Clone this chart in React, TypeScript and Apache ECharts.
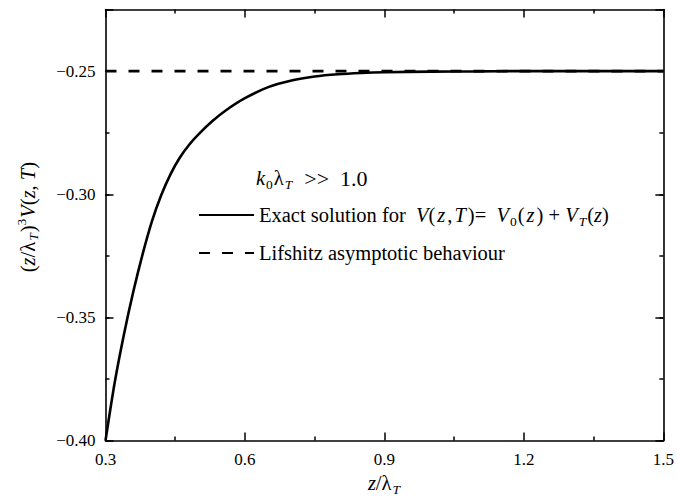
import React, { useEffect, useRef } from "react";
import * as echarts from "echarts";

// x = z / lambda_T, y = (z/lambda_T)^3 V(z,T)
const exactX = [0.30, 0.32, 0.34, 0.36, 0.38, 0.40, 0.42, 0.44, 0.46, 0.48, 0.50, 0.53, 0.56, 0.60, 0.65, 0.70, 0.75, 0.80, 0.85, 0.90, 1.00, 1.10, 1.20, 1.50];
const exactY = [-0.4000, -0.3762, -0.3566, -0.3394, -0.3242, -0.3109, -0.3003, -0.2918, -0.2851, -0.2799, -0.2757, -0.2703, -0.2658, -0.2610, -0.2565, -0.2538, -0.2522, -0.2513, -0.2508, -0.2505, -0.2502, -0.2501, -0.2500, -0.2500];
const lifshitzX = [0.3, 1.5];
const lifshitzY = [-0.25, -0.25];
const xTicks = [0.3, 0.6, 0.9, 1.2, 1.5];
const yTicks = [-0.40, -0.35, -0.30, -0.25];

const FONT = "Liberation Serif";

export default function App() {
  const ref = useRef<HTMLDivElement>(null);
  useEffect(() => {
    document.body.style.margin = "0";
    const chart = echarts.init(ref.current!, null, { renderer: "svg" });
    const FS = 20.5;
    const SS = 13.5;
    const LH = 26;
    const base = { fontFamily: FONT, color: "#000" };
    const rich = {
      n: { ...base, fontSize: FS, lineHeight: LH },
      i: { ...base, fontSize: FS, fontStyle: "italic", lineHeight: LH },
      ip: { ...base, fontSize: FS, fontStyle: "italic", lineHeight: LH, padding: [0, 2, 0, 2] },
      iv: { ...base, fontSize: FS, fontStyle: "italic", lineHeight: LH, padding: [0, 0, 0, 5] },
      big: { ...base, fontSize: 22, lineHeight: LH },
      sub: { ...base, fontSize: SS, lineHeight: 13, verticalAlign: "bottom", padding: [0, 1, 0, 1] },
      subi: { ...base, fontSize: SS, fontStyle: "italic", lineHeight: 13, verticalAlign: "bottom", padding: [0, 1, 0, 1] },
      sup: { ...base, fontSize: SS, lineHeight: 13, verticalAlign: "top", padding: [0, 1, 0, 0] },
    };
    const near = (v: number, arr: number[]) => arr.some((t) => Math.abs(t - v) < 1e-6);
    const fmt = (v: number, d: number) => v.toFixed(d).replace("-", "\u2212");
    const axisLine = { show: true, lineStyle: { color: "#000", width: 1.6 } };
    const major = { show: true, inside: true, length: 8, lineStyle: { color: "#000", width: 1.5 } };
    const minor = { show: true, inside: true, length: 4, lineStyle: { color: "#000", width: 1.5 } };
    const baseX = { type: "value", min: 0.3, max: 1.5, splitLine: { show: false } };
    const baseY = { type: "value", min: -0.4, max: -0.225, splitLine: { show: false } };
    const names: Record<string, string> = {
      exact:
        "{n|Exact solution for }{iv|V}{n|(}{ip|z}{n|,}{ip|T}{n|)=  }{i|V}{sub|0}{n|(}{ip|z}{n|) + }{i|V}{subi|T}{n|(}{i|z}{n|)}",
      lifshitz: "{n|Lifshitz asymptotic behaviour}",
    };
    chart.setOption({
      animation: false,
      backgroundColor: "#fff",
      grid: { left: 105.5, right: 10, top: 9.5, bottom: 60, containLabel: false },
      legend: {
        orient: "vertical",
        left: 198,
        top: 202,
        padding: 0,
        itemWidth: 55,
        itemHeight: 2,
        itemGap: 12,
        itemStyle: { opacity: 0 },
        data: ["exact", "lifshitz"],
        formatter: (name: string) => names[name],
        textStyle: { fontFamily: FONT, fontSize: FS, color: "#000", lineHeight: LH, rich },
      },
      xAxis: [
        {
          ...baseX,
          position: "bottom",
          interval: 0.3,
          axisLine,
          axisTick: major,
          minorTick: { ...minor, splitNumber: 2 },
          axisLabel: {
            margin: 10,
            fontFamily: FONT,
            fontSize: 17,
            color: "#000",
            formatter: (v: number) => (near(v, xTicks) ? fmt(v, 1) : ""),
          },
          name: "{i|z}{n|/λ}{subi|T}",
          nameLocation: "middle",
          nameGap: 28,
          nameTextStyle: { rich },
        },
        {
          ...baseX,
          position: "top",
          interval: 0.3,
          axisLine,
          axisTick: major,
          minorTick: { ...minor, splitNumber: 2 },
          axisLabel: { show: false },
        },
      ],
      yAxis: [
        {
          ...baseY,
          position: "left",
          interval: 0.05,
          axisLine,
          axisTick: major,
          axisLabel: {
            margin: 10,
            fontFamily: FONT,
            fontSize: 17,
            color: "#000",
            formatter: (v: number) => (near(v, yTicks) ? fmt(v, 2) : ""),
          },
          name: "{n|(}{i|z}{n|/λ}{subi|T}{n|)}{sup|3}{i|V}{n|(}{i|z}{n|, }{i|T}{n|)}",
          nameLocation: "middle",
          nameGap: 65,
          nameTextStyle: { rich, padding: [0, 0, 0, 16] },
        },
        {
          ...baseY,
          position: "left",
          interval: 0.025,
          axisLine: { show: false },
          axisTick: minor,
          axisLabel: { show: false },
        },
        {
          ...baseY,
          position: "right",
          interval: 0.05,
          axisLine,
          axisTick: major,
          axisLabel: { show: false },
        },
        {
          ...baseY,
          position: "right",
          interval: 0.025,
          axisLine: { show: false },
          axisTick: minor,
          axisLabel: { show: false },
        },
      ],
      graphic: [
        {
          type: "text",
          left: 256,
          top: 167,
          style: {
            text: "{i|k}{sub|0}{n|λ}{subi|T}{big|  >>  1.0}",
            rich,
          },
        },
      ],
      series: [
        {
          name: "lifshitz",
          type: "line",
          xAxisIndex: 0,
          yAxisIndex: 0,
          symbol: "none",
          data: lifshitzX.map((x, k) => [x, lifshitzY[k]]),
          lineStyle: { color: "#000", width: 2.6, type: [11, 12] },
          itemStyle: { color: "#000" },
        },
        {
          name: "exact",
          type: "line",
          xAxisIndex: 0,
          yAxisIndex: 0,
          symbol: "none",
          smooth: 0.3,
          data: exactX.map((x, k) => [x, exactY[k]]),
          lineStyle: { color: "#000", width: 2.6 },
          itemStyle: { color: "#000" },
        },
      ],
    });
    return () => chart.dispose();
  }, []);
  return <div ref={ref} style={{ width: 677, height: 501 }} />;
}
